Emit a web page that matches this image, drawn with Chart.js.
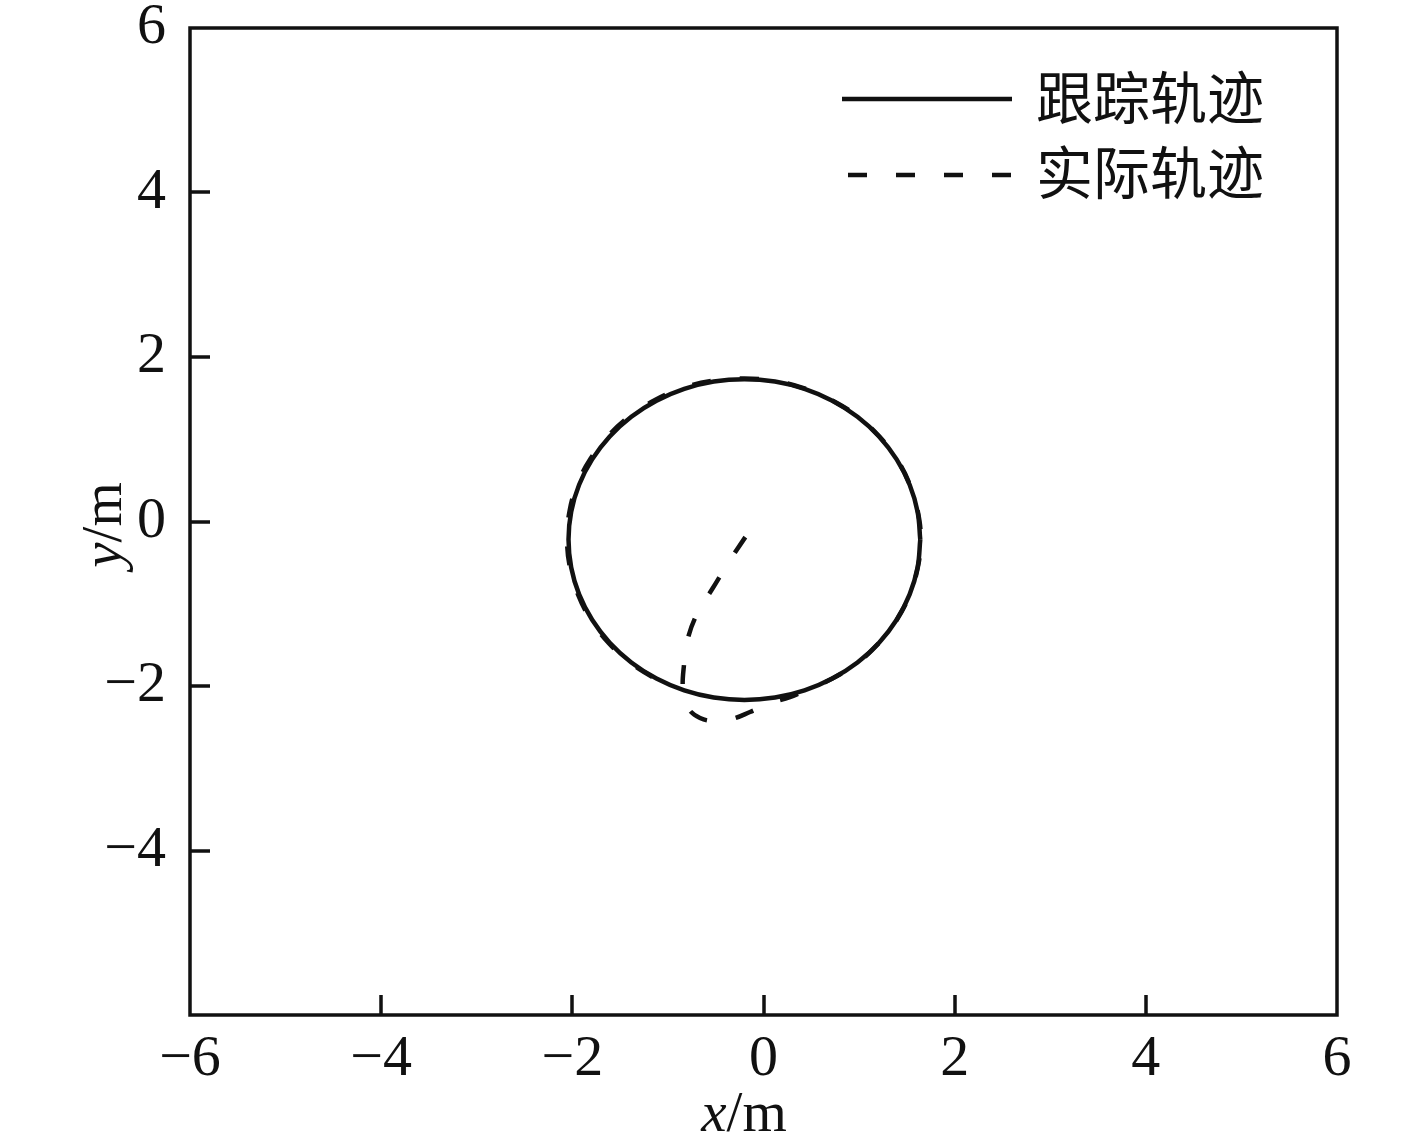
<!DOCTYPE html>
<html><head><meta charset="utf-8">
<script src="https://cdn.jsdelivr.net/npm/chart.js@4.4.1/dist/chart.umd.min.js"></script>
<style>html,body{margin:0;padding:0;background:#fff;}</style>
</head><body>
<canvas id="c" width="1417" height="1135"></canvas>
<script>
// ---- data ----
const seriesNames = ['跟踪轨迹', '实际轨迹'];

// tracking trajectory (solid, closed loop)
const trackX = [1.64, 1.612, 1.529, 1.393, 1.209, 0.983, 0.72, 0.429, 0.12, -0.2, -0.52, -0.829, -1.12, -1.383, -1.609, -1.793, -1.929, -2.012, -2.04, -2.012, -1.929, -1.793, -1.609, -1.383, -1.12, -0.829, -0.52, -0.2, 0.12, 0.429, 0.72, 0.983, 1.209, 1.393, 1.529, 1.612, 1.64];
const trackY = [-0.22, 0.119, 0.447, 0.755, 1.034, 1.274, 1.469, 1.613, 1.701, 1.73, 1.701, 1.613, 1.469, 1.274, 1.034, 0.755, 0.447, 0.119, -0.22, -0.559, -0.887, -1.195, -1.474, -1.714, -1.909, -2.053, -2.14, -2.17, -2.14, -2.053, -1.909, -1.714, -1.474, -1.195, -0.887, -0.559, -0.22];

// actual trajectory (dashed)
const actualX = [-0.19, -0.37, -0.53, -0.685, -0.79, -0.832, -0.842, -0.79, -0.664, -0.507, -0.329, -0.141, 0.047, 0.277, 0.43, 0.72, 0.985, 1.21, 1.395, 1.53, 1.615, 1.645, 1.615, 1.53, 1.395, 1.21, 0.984, 0.72, 0.428, 0.118, -0.2, -0.525, -0.838, -1.13, -1.395, -1.623, -1.81, -1.948, -2.03, -2.055, -2.025, -1.94, -1.803, -1.618, -1.39, -1.125, -0.98];
const actualY = [-0.19, -0.505, -0.809, -1.1, -1.416, -1.745, -2.049, -2.267, -2.389, -2.426, -2.401, -2.316, -2.219, -2.134, -2.06, -1.91, -1.715, -1.475, -1.195, -0.885, -0.555, -0.22, 0.12, 0.45, 0.757, 1.036, 1.277, 1.472, 1.618, 1.708, 1.74, 1.712, 1.625, 1.48, 1.285, 1.043, 0.762, 0.452, 0.12, -0.22, -0.56, -0.89, -1.2, -1.48, -1.72, -1.915, -1.99];

const xTickValues = [-6, -4, -2, 0, 2, 4, 6];
const yTickValues = [-4, -2, 0, 2, 4, 6];
const xTitleParts = ['x', '/m'];
const yTitleParts = ['y', '/m'];

// ---- helpers ----
const SERIF = "'Liberation Serif', 'Times New Roman', serif";
const fmt = v => (v < 0 ? '\u2212' + Math.abs(v) : String(v));
const toPts = (xs, ys) => xs.map((x, i) => ({ x: x, y: ys[i] }));

const framePlugin = {
  id: 'frame',
  beforeDatasetsDraw(chart) {
    const { ctx, chartArea: a, scales } = chart;
    ctx.save();
    ctx.strokeStyle = '#111';
    ctx.lineWidth = 3.5;
    ctx.strokeRect(a.left, a.top, a.right - a.left, a.bottom - a.top);
    ctx.beginPath();
    xTickValues.forEach(v => {
      if (v === scales.x.min || v === scales.x.max) return;
      const px = Math.round(scales.x.getPixelForValue(v));
      ctx.moveTo(px, a.bottom); ctx.lineTo(px, a.bottom - 20);
    });
    yTickValues.forEach(v => {
      if (v === scales.y.min || v === scales.y.max) return;
      const py = Math.round(scales.y.getPixelForValue(v));
      ctx.moveTo(a.left, py); ctx.lineTo(a.left + 20, py);
    });
    ctx.stroke();
    ctx.restore();
  },
  afterDraw(chart) {
    const { ctx } = chart;
    ctx.save();
    ctx.fillStyle = '#111';
    // x title
    ctx.textBaseline = 'alphabetic';
    ctx.font = 'italic 57px ' + SERIF;
    const w1 = ctx.measureText(xTitleParts[0]).width;
    ctx.font = '57px ' + SERIF;
    const w2 = ctx.measureText(xTitleParts[1]).width;
    let sx = 744 - (w1 + w2) / 2;
    ctx.font = 'italic 57px ' + SERIF;
    ctx.fillText(xTitleParts[0], sx, 1131);
    ctx.font = '57px ' + SERIF;
    ctx.fillText(xTitleParts[1], sx + w1, 1131);
    // y title
    ctx.translate(121, 525);
    ctx.rotate(-Math.PI / 2);
    ctx.font = 'italic 57px ' + SERIF;
    const v1 = ctx.measureText(yTitleParts[0]).width;
    ctx.font = '57px ' + SERIF;
    const v2 = ctx.measureText(yTitleParts[1]).width;
    let sy = -(v1 + v2) / 2;
    ctx.font = 'italic 57px ' + SERIF;
    ctx.fillText(yTitleParts[0], sy, 0);
    ctx.font = '57px ' + SERIF;
    ctx.fillText(yTitleParts[1], sy + v1, 0);
    ctx.restore();

    // legend
    ctx.save();
    const rows = [{ y: 99, ty: 97 }, { y: 175, ty: 172 }];
    chart.data.datasets.forEach((ds, i) => {
      ctx.strokeStyle = ds.borderColor;
      ctx.lineWidth = ds.borderWidth;
      ctx.setLineDash(ds.borderDash || []);
      ctx.beginPath();
      ctx.moveTo(i === 0 ? 842 : 848, rows[i].y);
      ctx.lineTo(1012, rows[i].y);
      ctx.stroke();
      ctx.setLineDash([]);
      ctx.fillStyle = '#111';
      ctx.font = "57px 'Noto Sans CJK SC', sans-serif";
      ctx.textBaseline = 'middle';
      ctx.fillText(ds.label, 1036, rows[i].ty);
    });
    ctx.restore();
  }
};

new Chart(document.getElementById('c'), {
  type: 'scatter',
  data: {
    datasets: [
      {
        label: seriesNames[0],
        data: toPts(trackX, trackY),
        showLine: true,
        borderColor: '#111',
        borderWidth: 4.5,
        pointRadius: 0,
        tension: 0.4,
        fill: false
      },
      {
        label: seriesNames[1],
        data: toPts(actualX, actualY),
        showLine: true,
        borderColor: '#111',
        borderWidth: 4.5,
        borderDash: [19, 29],
        pointRadius: 0,
        tension: 0.4,
        fill: false
      }
    ]
  },
  options: {
    responsive: false,
    animation: false,
    devicePixelRatio: 1,
    layout: { padding: { left: 0, right: 80, top: 28, bottom: 0 } },
    plugins: { legend: { display: false }, tooltip: { enabled: false } },
    scales: {
      x: {
        type: 'linear', min: -6, max: 6,
        afterBuildTicks: s => { s.ticks = xTickValues.map(v => ({ value: v })); },
        afterFit: s => { s.height = 120; s.paddingLeft = 0; s.paddingRight = 0; },
        grid: { display: false },
        border: { display: false },
        ticks: {
          autoSkip: false, maxRotation: 0, padding: 2, color: '#111',
          font: { family: SERIF, size: 58 },
          callback: v => fmt(v)
        }
      },
      y: {
        type: 'linear', min: -6, max: 6,
        afterBuildTicks: s => { s.ticks = yTickValues.map(v => ({ value: v })); },
        afterFit: s => { s.width = 190; s.paddingTop = 0; s.paddingBottom = 0; },
        grid: { display: false },
        border: { display: false },
        ticks: {
          autoSkip: false, padding: 16, color: '#111',
          font: { family: SERIF, size: 58 },
          callback: v => fmt(v)
        }
      }
    }
  },
  plugins: [framePlugin]
});
</script>
</body></html>
